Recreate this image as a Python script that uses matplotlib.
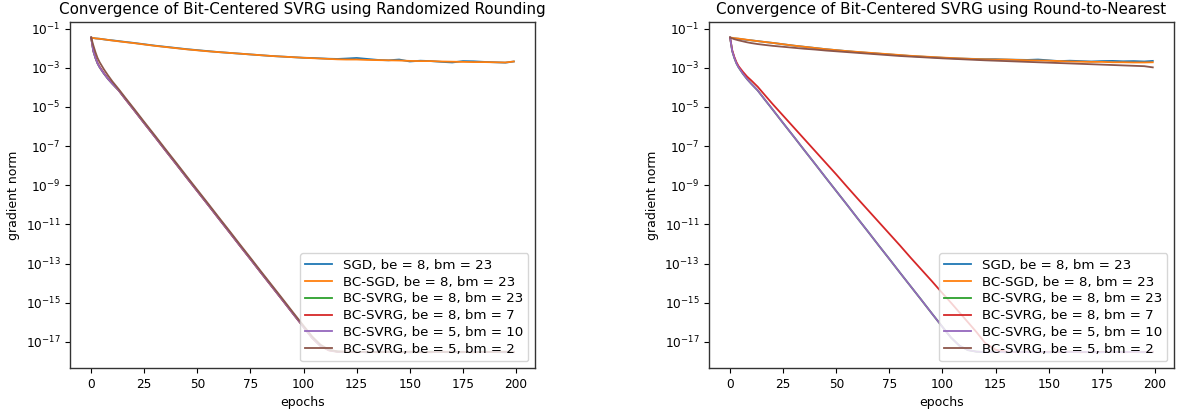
import numpy as np
import matplotlib
matplotlib.use("Agg")
import matplotlib.pyplot as plt

# --- DATA (log10 of gradient norm) ---
EPOCHS = [0, 1, 2, 3, 4, 6, 8, 10, 13, 16, 20, 25, 30, 35, 40, 45, 50, 55, 60, 65,
          70, 75, 80, 85, 90, 95, 100, 104, 108, 112, 116, 120, 125, 130, 135, 140,
          145, 150, 155, 160, 165, 170, 175, 180, 185, 190, 195, 199]

LABELS = ["SGD, be = 8, bm = 23", "BC-SGD, be = 8, bm = 23", "BC-SVRG, be = 8, bm = 23",
          "BC-SVRG, be = 8, bm = 7", "BC-SVRG, be = 5, bm = 10", "BC-SVRG, be = 5, bm = 2"]

X_TICKS = [0, 25, 50, 75, 100, 125, 150, 175, 200]
Y_TICKS = [1e-1, 1e-3, 1e-5, 1e-7, 1e-9, 1e-11, 1e-13, 1e-15, 1e-17]

# randomized rounding
rr_sgd = [-1.46, -1.48, -1.50, -1.51, -1.52, -1.55, -1.58, -1.60, -1.64, -1.68, -1.73, -1.80,
          -1.87, -1.93, -1.99, -2.05, -2.10, -2.15, -2.20, -2.24, -2.28, -2.32, -2.36, -2.40,
          -2.43, -2.46, -2.49, -2.50, -2.52, -2.54, -2.55, -2.53, -2.50, -2.55, -2.60, -2.62,
          -2.58, -2.68, -2.64, -2.66, -2.70, -2.73, -2.66, -2.67, -2.70, -2.72, -2.74, -2.68]
rr_bcsgd = [-1.46, -1.48, -1.50, -1.51, -1.52, -1.55, -1.58, -1.61, -1.65, -1.69, -1.74, -1.81,
            -1.88, -1.94, -2.00, -2.06, -2.11, -2.16, -2.20, -2.24, -2.28, -2.32, -2.36, -2.40,
            -2.43, -2.46, -2.49, -2.51, -2.53, -2.55, -2.57, -2.58, -2.58, -2.60, -2.61, -2.62,
            -2.63, -2.65, -2.66, -2.66, -2.68, -2.69, -2.70, -2.71, -2.71, -2.72, -2.73, -2.68]
rr_svrg_8_23 = [-1.46, -2.15, -2.50, -2.78, -2.98, -3.30, -3.58, -3.82, -4.16, -4.58, -5.13,
                -5.83, -6.52, -7.22, -7.91, -8.61, -9.30, -9.99, -10.69, -11.38, -12.08, -12.77,
                -13.47, -14.16, -14.85, -15.55, -16.24, -16.78, -17.20, -17.42, -17.50, -17.52,
                -17.50, -17.53, -17.51, -17.52, -17.50, -17.53, -17.52, -17.50, -17.52, -17.53,
                -17.51, -17.52, -17.50, -17.52, -17.53, -17.52]
rr_svrg_8_7 = [-1.46, -2.12, -2.47, -2.76, -2.96, -3.28, -3.57, -3.81, -4.16, -4.59, -5.14,
               -5.84, -6.53, -7.23, -7.92, -8.62, -9.31, -10.00, -10.70, -11.39, -12.09, -12.78,
               -13.48, -14.17, -14.86, -15.56, -16.25, -16.80, -17.22, -17.44, -17.51, -17.50,
               -17.53, -17.51, -17.52, -17.50, -17.53, -17.51, -17.52, -17.53, -17.50, -17.52,
               -17.51, -17.53, -17.52, -17.50, -17.52, -17.51]
rr_svrg_5_10 = [-1.46, -2.15, -2.50, -2.78, -2.98, -3.30, -3.58, -3.82, -4.16, -4.58, -5.13,
                -5.83, -6.52, -7.22, -7.91, -8.61, -9.30, -9.99, -10.69, -11.38, -12.08, -12.77,
                -13.47, -14.16, -14.85, -15.55, -16.24, -16.78, -17.20, -17.42, -17.50, -17.52,
                -17.51, -17.53, -17.50, -17.52, -17.51, -17.53, -17.50, -17.52, -17.51, -17.52,
                -17.53, -17.50, -17.52, -17.51, -17.52, -17.53]
rr_svrg_5_2 = [-1.46, -1.85, -2.20, -2.50, -2.72, -3.08, -3.40, -3.70, -4.10, -4.52, -5.07,
               -5.77, -6.46, -7.16, -7.85, -8.55, -9.24, -9.93, -10.63, -11.32, -12.02, -12.71,
               -13.41, -14.10, -14.79, -15.49, -16.18, -16.72, -17.15, -17.40, -17.49, -17.51,
               -17.52, -17.50, -17.53, -17.51, -17.52, -17.50, -17.53, -17.51, -17.52, -17.50,
               -17.52, -17.53, -17.51, -17.52, -17.50, -17.52]

# round-to-nearest
rn_sgd = [-1.46, -1.48, -1.50, -1.51, -1.52, -1.55, -1.58, -1.60, -1.64, -1.68, -1.73, -1.80,
          -1.87, -1.93, -1.99, -2.05, -2.10, -2.15, -2.20, -2.24, -2.28, -2.32, -2.36, -2.40,
          -2.43, -2.46, -2.49, -2.51, -2.53, -2.54, -2.55, -2.56, -2.56, -2.58, -2.59, -2.60,
          -2.58, -2.62, -2.66, -2.64, -2.66, -2.68, -2.66, -2.65, -2.67, -2.66, -2.68, -2.65]
rn_bcsgd = [-1.46, -1.47, -1.49, -1.50, -1.51, -1.54, -1.57, -1.60, -1.64, -1.68, -1.73, -1.80,
            -1.87, -1.93, -1.99, -2.05, -2.10, -2.15, -2.19, -2.23, -2.27, -2.31, -2.35, -2.39,
            -2.42, -2.45, -2.48, -2.50, -2.52, -2.54, -2.56, -2.57, -2.58, -2.58, -2.60, -2.62,
            -2.63, -2.64, -2.66, -2.68, -2.69, -2.70, -2.70, -2.72, -2.72, -2.73, -2.73, -2.72]
rn_svrg_8_23 = [-1.46, -2.15, -2.50, -2.78, -2.98, -3.30, -3.58, -3.82, -4.16, -4.58, -5.13,
                -5.83, -6.52, -7.22, -7.91, -8.61, -9.30, -9.99, -10.69, -11.38, -12.08, -12.77,
                -13.47, -14.16, -14.85, -15.55, -16.24, -16.78, -17.20, -17.42, -17.50, -17.52,
                -17.50, -17.53, -17.51, -17.52, -17.50, -17.53, -17.52, -17.50, -17.52, -17.53,
                -17.51, -17.52, -17.50, -17.52, -17.53, -17.52]
rn_svrg_8_7 = [-1.46, -2.10, -2.45, -2.72, -2.92, -3.20, -3.45, -3.65, -3.97, -4.35, -4.85,
               -5.45, -6.05, -6.65, -7.25, -7.85, -8.45, -9.07, -9.68, -10.28, -10.88, -11.48,
               -12.08, -12.70, -13.30, -13.90, -14.52, -15.00, -15.50, -16.00, -16.50, -17.05,
               -17.40, -17.50, -17.52, -17.50, -17.53, -17.51, -17.52, -17.50, -17.53, -17.51,
               -17.52, -17.50, -17.53, -17.51, -17.52, -17.51]
rn_svrg_5_10 = [-1.46, -2.15, -2.50, -2.78, -2.98, -3.30, -3.58, -3.82, -4.16, -4.58, -5.13,
                -5.83, -6.52, -7.22, -7.91, -8.61, -9.30, -9.99, -10.69, -11.38, -12.08, -12.77,
                -13.47, -14.16, -14.85, -15.55, -16.24, -16.78, -17.20, -17.42, -17.50, -17.52,
                -17.51, -17.53, -17.50, -17.52, -17.51, -17.53, -17.50, -17.52, -17.51, -17.52,
                -17.53, -17.50, -17.52, -17.51, -17.52, -17.53]
rn_svrg_5_2 = [-1.46, -1.50, -1.54, -1.57, -1.60, -1.65, -1.70, -1.74, -1.79, -1.83, -1.88,
               -1.93, -1.98, -2.03, -2.07, -2.12, -2.16, -2.20, -2.24, -2.28, -2.32, -2.36,
               -2.40, -2.43, -2.46, -2.49, -2.52, -2.54, -2.56, -2.58, -2.60, -2.62, -2.64,
               -2.66, -2.68, -2.70, -2.72, -2.74, -2.76, -2.78, -2.80, -2.82, -2.84, -2.86,
               -2.88, -2.90, -2.92, -2.98]

panels = [
    ("Convergence of Bit-Centered SVRG using Randomized Rounding",
     [rr_sgd, rr_bcsgd, rr_svrg_8_23, rr_svrg_8_7, rr_svrg_5_10, rr_svrg_5_2]),
    ("Convergence of Bit-Centered SVRG using Round-to-Nearest",
     [rn_sgd, rn_bcsgd, rn_svrg_8_23, rn_svrg_8_7, rn_svrg_5_10, rn_svrg_5_2]),
]

# --- PLOT ---
plt.rcParams['font.family'] = 'DejaVu Sans'
fig = plt.figure(figsize=(11.81, 4.15), dpi=100)
lefts = [0.0593, 0.6003]

for left, (title, series) in zip(lefts, panels):
    ax = fig.add_axes([left, 0.1133, 0.3937, 0.834])
    for lab, vals in zip(LABELS, series):
        ax.plot(EPOCHS, 10.0 ** np.array(vals), label=lab, linewidth=1.3)
    ax.set_yscale('log')
    ax.set_xticks(X_TICKS)
    ax.set_yticks(Y_TICKS)
    ax.yaxis.set_minor_locator(matplotlib.ticker.NullLocator())
    ax.tick_params(labelsize=8.7)
    ax.set_title(title, fontsize=10.9)
    ax.set_xlabel("epochs", fontsize=9)
    ax.set_ylabel("gradient norm", fontsize=9)
    ax.legend(loc='lower right', fontsize=9.6, labelspacing=0.29)
    for sp in ax.spines.values():
        sp.set_color('#333333')
        sp.set_linewidth(1.0)

fig.savefig("out.png", dpi=100)
